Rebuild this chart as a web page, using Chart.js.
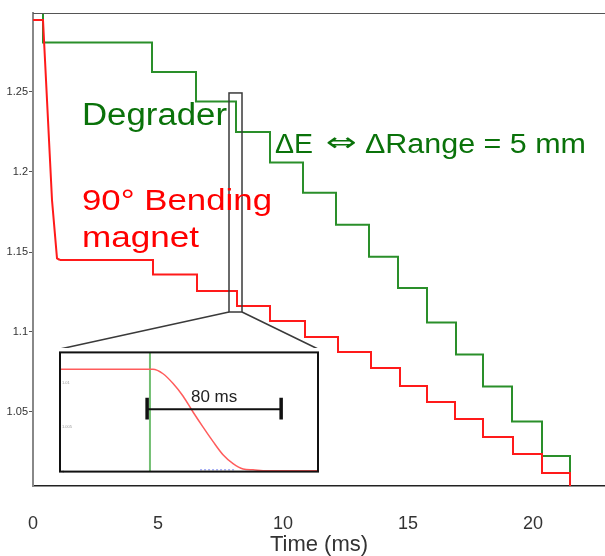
<!DOCTYPE html>
<html>
<head>
<meta charset="utf-8">
<script src="https://cdn.jsdelivr.net/npm/chart.js@4.4.1/dist/chart.umd.min.js"></script>
<style>
    html, body { margin: 0; padding: 0; background: #fff; }
    #wrap { position: relative; width: 605px; height: 556px; }
    #mainChart { position: absolute; left: 0; top: 0; }
    #insetChart { position: absolute; left: 59px; top: 348px; background: #fff; }
</style>
</head>
<body>
<div id="wrap">
    <canvas id="mainChart" width="605" height="556"></canvas>
    <canvas id="insetChart" width="260" height="128"></canvas>
</div>
<script>

// MAIN PLOT DATA (time in ms, relative energy)

const xTicks = [0, 5, 10, 15, 20];
const yTicks = [1.05, 1.1, 1.15, 1.2, 1.25];

// degrader: energy steps
const degraderT = [0.4, 0.4, 4.76, 6.52, 8.12, 9.48, 10.8, 12.12, 13.44, 14.6, 15.76, 16.92, 18.0, 19.16, 20.36, 21.48, 21.48];
const degraderE = [1.30, 1.281, 1.2625, 1.244, 1.225, 1.206, 1.187, 1.167, 1.147, 1.1275, 1.106, 1.086, 1.066, 1.044, 1.0225, 1.0225, 1.0];

// bending magnet: initial fast drop, then steps
const magnetDropT = [0, 0.4, 0.76, 0.96, 1.08];
const magnetDropE = [1.295, 1.295, 1.1825, 1.146, 1.145];
const magnetT = [1.08, 4.8, 6.56, 8.16, 9.48, 10.88, 12.2, 13.52, 14.68, 15.76, 16.88, 18.0, 19.2, 20.36, 21.48, 21.48];
const magnetE = [1.145, 1.136, 1.1256, 1.1163, 1.1069, 1.0969, 1.0875, 1.0775, 1.0663, 1.0563, 1.0456, 1.0344, 1.0238, 1.0119, 1.0119, 1.0];

// zoom window and inset corners (main chart units)
const zoomWindowT = [7.84, 8.36];
const zoomWindowE = [1.1125, 1.2494];
const insetCornerT = [1.08, 11.4];
const insetCornerE = 1.0894;

// INSET DATA (ms within the switch, relative energy)

const insetYTicks = [1.0, 1.005, 1.01];
const insetRedT = [0, 55.5, 61.5, 67.5, 73.4, 79.4, 85.4, 91.3, 97.3, 103.3, 109.3, 115.2, 123.6, 154];
const insetRedE = [1.0115, 1.0115, 1.011, 1.0099, 1.0085, 1.0067, 1.005, 1.0034, 1.0019, 1.0009, 1.0003, 1.0002, 1.0001, 1.0001];
const insetGreenT = [53.7, 53.7];
const insetGreenE = [1.0, 1.0134];
const insetBlueT = [83.6, 104.5];
const insetBlueE = [1.0002, 1.0002];
const barT = [52, 132];
const barE = 1.00702;
const barCapE = [1.00585, 1.0083];

function toPoints(xs, ys) {
    return xs.map((x, i) => ({ x: x, y: ys[i] }));
}

function stretchText(ctx, text, x, y, width, font, color) {
    ctx.save();
    ctx.font = font;
    ctx.fillStyle = color;
    ctx.textBaseline = "alphabetic";
    ctx.textAlign = "left";
    const w = ctx.measureText(text).width;
    ctx.translate(x, y);
    ctx.scale(width / w, 1);
    ctx.fillText(text, 0, 0);
    ctx.restore();
}

// MAIN CHART

const mainDecor = {
    id: "mainDecor",
    afterDatasetsDraw(chart) {
        const { ctx, chartArea, scales: { x, y } } = chart;
        ctx.save();

        // top frame line
        ctx.strokeStyle = "#555";
        ctx.lineWidth = 1;
        ctx.beginPath();
        ctx.moveTo(chartArea.left, chartArea.top + 0.5);
        ctx.lineTo(chartArea.right, chartArea.top + 0.5);
        ctx.stroke();

        // zoom window
        const x0 = x.getPixelForValue(zoomWindowT[0]);
        const x1 = x.getPixelForValue(zoomWindowT[1]);
        const yb = y.getPixelForValue(zoomWindowE[0]);
        const yt = y.getPixelForValue(zoomWindowE[1]);
        ctx.strokeStyle = "#3a3a3a";
        ctx.lineWidth = 1.5;
        ctx.strokeRect(x0, yt, x1 - x0, yb - yt);

        // connectors to inset
        const yi = y.getPixelForValue(insetCornerE);
        ctx.beginPath();
        ctx.moveTo(x0, yb);
        ctx.lineTo(x.getPixelForValue(insetCornerT[0]), yi);
        ctx.moveTo(x1, yb);
        ctx.lineTo(x.getPixelForValue(insetCornerT[1]), yi);
        ctx.stroke();

        // labels
        const green = "#0a720a";
        const red = "#ff0000";
        stretchText(ctx, "Degrader", 82, 125, 145, "31px 'Liberation Sans', Arial", green);
        stretchText(ctx, "\u0394E", 275, 153, 38, "27px 'Liberation Sans', Arial", green);
        stretchText(ctx, "\u21d4", 326, 151, 31, "26px 'DejaVu Sans', 'Liberation Sans'", green);
        stretchText(ctx, "\u0394Range = 5 mm", 365, 153, 221, "27px 'Liberation Sans', Arial", green);
        stretchText(ctx, "90\u00b0 Bending", 82, 210, 190, "30px 'Liberation Sans', Arial", red);
        stretchText(ctx, "magnet", 82, 247, 117, "30px 'Liberation Sans', Arial", red);

        ctx.restore();
    }
};

new Chart(document.getElementById("mainChart"), {
    type: "line",
    data: {
        datasets: [
            {
                data: toPoints(magnetT, magnetE),
                borderColor: "#ff1a1a",
                borderWidth: 2,
                stepped: "before",
                pointRadius: 0
            },
            {
                data: toPoints(magnetDropT, magnetDropE),
                borderColor: "#ff1a1a",
                borderWidth: 2,
                pointRadius: 0
            },
            {
                data: toPoints(degraderT, degraderE),
                borderColor: "#2a8f2a",
                borderWidth: 2,
                stepped: "before",
                pointRadius: 0
            }
        ]
    },
    options: {
        responsive: false,
        animation: false,
        devicePixelRatio: 1,
        layout: { padding: { top: 13, left: 0, right: 0, bottom: 0 } },
        plugins: {
            legend: { display: false },
            tooltip: { enabled: false }
        },
        scales: {
            x: {
                type: "linear",
                min: 0,
                max: 22.88,
                afterBuildTicks: (scale) => { scale.ticks = xTicks.map(v => ({ value: v })); },
                afterFit: (scale) => { scale.height = 70; },
                grid: { display: false },
                border: { display: true, color: "#222", width: 1.5 },
                ticks: {
                    padding: 19,
                    color: "#333",
                    font: { family: "'Liberation Sans', Arial", size: 18 }
                },
                title: {
                    display: true,
                    text: "Time (ms)",
                    color: "#333",
                    padding: 0,
                    font: { family: "'Liberation Sans', Arial", size: 22, lineHeight: 1 }
                }
            },
            y: {
                type: "linear",
                min: 1.00375,
                max: 1.299375,
                afterBuildTicks: (scale) => { scale.ticks = yTicks.map(v => ({ value: v })); },
                afterFit: (scale) => { scale.width = 33; },
                grid: { display: true, drawOnChartArea: false, drawTicks: true, tickLength: 4, color: "#555" },
                border: { display: true, color: "#888", width: 2 },
                ticks: {
                    padding: 1,
                    color: "#333",
                    font: { family: "'Liberation Sans', Arial", size: 11 },
                    callback: (v) => String(Number(v.toFixed(3)))
                }
            }
        }
    },
    plugins: [mainDecor]
});

// INSET CHART

const insetDecor = {
    id: "insetDecor",
    afterDatasetsDraw(chart) {
        const { ctx, chartArea, scales: { x, y } } = chart;
        ctx.save();

        ctx.strokeStyle = "#111";
        ctx.lineWidth = 2;
        ctx.strokeRect(chartArea.left, chartArea.top, chartArea.right - chartArea.left, chartArea.bottom - chartArea.top);

        // 80 ms bar
        const bx0 = x.getPixelForValue(barT[0]);
        const bx1 = x.getPixelForValue(barT[1]);
        const by = y.getPixelForValue(barE);
        ctx.lineWidth = 2;
        ctx.beginPath();
        ctx.moveTo(bx0, by);
        ctx.lineTo(bx1, by);
        ctx.stroke();
        ctx.lineWidth = 3.5;
        ctx.beginPath();
        ctx.moveTo(bx0, y.getPixelForValue(barCapE[0]));
        ctx.lineTo(bx0, y.getPixelForValue(barCapE[1]));
        ctx.moveTo(bx1, y.getPixelForValue(barCapE[0]));
        ctx.lineTo(bx1, y.getPixelForValue(barCapE[1]));
        ctx.stroke();

        ctx.fillStyle = "#222";
        ctx.font = "17px 'Liberation Sans', Arial";
        ctx.textAlign = "center";
        ctx.textBaseline = "alphabetic";
        ctx.fillText("80 ms", (bx0 + bx1) / 2, by - 7);

        ctx.restore();
    }
};

new Chart(document.getElementById("insetChart"), {
    type: "line",
    data: {
        datasets: [
            {
                data: toPoints(insetRedT, insetRedE),
                borderColor: "#ff5c5c",
                borderWidth: 1.5,
                cubicInterpolationMode: "monotone",
                pointRadius: 0
            },
            {
                data: toPoints(insetGreenT, insetGreenE),
                borderColor: "rgba(90,180,90,0.85)",
                borderWidth: 2,
                pointRadius: 0
            },
            {
                data: toPoints(insetBlueT, insetBlueE),
                borderColor: "rgba(40,60,230,0.6)",
                borderWidth: 1,
                borderDash: [2, 2],
                pointRadius: 0
            }
        ]
    },
    options: {
        responsive: false,
        animation: false,
        devicePixelRatio: 1,
        layout: { padding: 1 },
        plugins: {
            legend: { display: false },
            tooltip: { enabled: false }
        },
        scales: {
            x: { type: "linear", min: 0, max: 154, display: false },
            y: {
                type: "linear",
                min: 1.0,
                max: 1.0134,
                afterBuildTicks: (scale) => { scale.ticks = insetYTicks.map(v => ({ value: v })); },
                afterFit: (scale) => { scale.width = 0; },
                grid: { display: false },
                border: { display: false },
                ticks: {
                    mirror: true,
                    padding: 2,
                    color: "#999",
                    font: { family: "'Liberation Sans', Arial", size: 4 },
                    callback: (v) => String(Number(v.toFixed(3)))
                }
            }
        }
    },
    plugins: [insetDecor]
});

</script>
</body>
</html>
